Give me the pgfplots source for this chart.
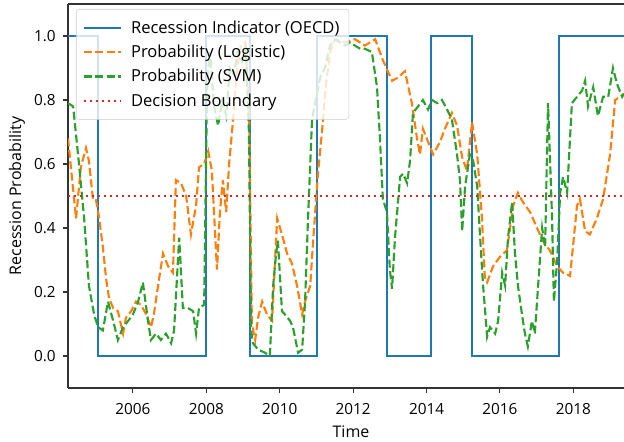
\documentclass[border=0pt]{standalone}
\usepackage{fontspec}
\setmainfont{Open Sans}
\usepackage{pgfplots}
\pgfplotsset{compat=1.18}
\definecolor{mblue}{HTML}{1F77B4}
\definecolor{morange}{HTML}{FF7F0E}
\definecolor{mgreen}{HTML}{2CA02C}
\definecolor{mred}{HTML}{D62728}
\begin{document}
\begin{tikzpicture}
\begin{axis}[
  name=ax,
  scale only axis,
  width=417pt, height=288pt,
  xmin=2004.23, xmax=2019.38,
  ymin=-0.1, ymax=1.1,
  axis x line*=box, axis y line*=left,
  axis line style={black!80, line width=0.8pt},
  tick align=outside,
  xtick pos=bottom, ytick pos=left,
  major tick length=3.75pt,
  tick style={black!80, line width=0.8pt},
  xtick={2006,2008,2010,2012,2014,2016,2018},
  ytick={0,0.2,0.4,0.6,0.8,1.0},
  /pgf/number format/assume math mode=true,
  x tick label style={/pgf/number format/1000 sep={}, font=\fontsize{11.5}{13}\selectfont, yshift=-4pt},
  y tick label style={/pgf/number format/.cd, fixed, fixed zerofill, precision=1, /tikz/.cd, font=\fontsize{11.5}{13}\selectfont, xshift=-2pt},
  xlabel={Time},
  ylabel={Recession Probability},
  xlabel style={at={(axis description cs:0.509,-0.1146)}, anchor=center, font=\fontsize{12}{14}\selectfont},
  ylabel style={at={(axis description cs:-0.0917,0.5)}, anchor=center, font=\fontsize{12}{14}\selectfont},
  legend cell align=left,
  legend image code/.code={\draw[#1] (0pt,0pt) -- (28pt,0pt); \path (32.5pt,0pt);},
  legend style={at={(axis description cs:0,1)}, anchor=north west, xshift=6pt, yshift=-3.75pt,
    draw=black!20, fill=white, fill opacity=0.8, text opacity=1, rounded corners=2pt,
    font=\fontsize{12.4}{14}\selectfont, row sep=3.3pt, inner xsep=5pt, inner ysep=6.5pt},
]
\addplot[const plot, mblue, line width=1.6pt] coordinates {
(2004.23,1) (2005.05,0) (2007.99,1) (2009.19,0) (2011.01,1) (2012.92,0) (2014.12,1) (2015.24,0) (2017.61,1) (2019.38,1)
};
\addlegendentry{Recession Indicator (OECD)}
\addplot[morange, line width=1.6pt, dash pattern=on 6pt off 2.6pt] coordinates {
(2004.23,0.68) (2004.45,0.43) (2004.58,0.59) (2004.72,0.65) (2004.80,0.61) (2004.91,0.49) (2004.99,0.49)
(2005.08,0.43) (2005.18,0.34) (2005.27,0.24) (2005.35,0.18) (2005.46,0.15) (2005.59,0.14) (2005.73,0.07)
(2005.81,0.12) (2005.95,0.14) (2006.08,0.17) (2006.22,0.16) (2006.36,0.13) (2006.49,0.09) (2006.57,0.13)
(2006.71,0.24) (2006.82,0.32) (2006.96,0.28) (2007.09,0.26) (2007.17,0.55) (2007.31,0.54) (2007.45,0.50)
(2007.58,0.38) (2007.72,0.47) (2007.80,0.59) (2007.94,0.60) (2008.05,0.64) (2008.15,0.58) (2008.23,0.40)
(2008.29,0.27) (2008.37,0.45) (2008.45,0.55) (2008.54,0.45) (2008.62,0.60) (2008.73,0.74) (2008.84,0.90)
(2008.94,0.97) (2009.05,0.98) (2009.16,0.80) (2009.24,0.10) (2009.33,0.05) (2009.41,0.12) (2009.52,0.17)
(2009.65,0.13) (2009.79,0.11) (2009.93,0.43) (2010.06,0.38) (2010.20,0.32) (2010.33,0.29) (2010.47,0.22)
(2010.61,0.13) (2010.69,0.17) (2010.83,0.22) (2010.91,0.36) (2011.04,0.57) (2011.15,0.70) (2011.26,0.85)
(2011.37,0.95) (2011.51,0.99) (2011.78,0.98) (2012.05,0.99) (2012.32,0.97) (2012.60,0.99) (2012.79,0.93)
(2013.06,0.86) (2013.22,0.87) (2013.41,0.89) (2013.60,0.79) (2013.74,0.68) (2013.82,0.63) (2013.90,0.71)
(2014.04,0.67) (2014.18,0.63) (2014.37,0.67) (2014.50,0.71) (2014.69,0.76) (2014.83,0.72) (2014.97,0.62)
(2015.10,0.58) (2015.24,0.73) (2015.38,0.63) (2015.51,0.43) (2015.59,0.24) (2015.65,0.23) (2015.81,0.28)
(2016.00,0.31) (2016.19,0.33) (2016.36,0.47) (2016.49,0.51) (2016.63,0.48) (2016.82,0.45) (2017.01,0.40)
(2017.17,0.36) (2017.36,0.33) (2017.56,0.28) (2017.72,0.26) (2017.91,0.25) (2018.10,0.47) (2018.18,0.49)
(2018.32,0.39) (2018.45,0.38) (2018.64,0.43) (2018.81,0.49) (2019.00,0.63) (2019.14,0.80) (2019.27,0.81)
(2019.38,0.82)
};
\addlegendentry{Probability (Logistic)}
\addplot[mgreen, line width=1.6pt, dash pattern=on 6pt off 2.6pt] coordinates {
(2004.23,0.79) (2004.37,0.78) (2004.53,0.60) (2004.67,0.43) (2004.80,0.22) (2004.94,0.13) (2005.05,0.09)
(2005.18,0.08) (2005.32,0.17) (2005.46,0.11) (2005.59,0.05) (2005.73,0.09) (2005.87,0.11) (2006.00,0.13)
(2006.14,0.17) (2006.27,0.23) (2006.41,0.11) (2006.49,0.05) (2006.63,0.07) (2006.76,0.05) (2006.90,0.07)
(2007.04,0.04) (2007.12,0.08) (2007.26,0.37) (2007.36,0.15) (2007.50,0.15) (2007.64,0.14) (2007.72,0.07)
(2007.80,0.15) (2007.94,0.16) (2008.02,0.85) (2008.10,0.95) (2008.21,0.78) (2008.32,0.72) (2008.43,0.80)
(2008.54,0.75) (2008.64,0.90) (2008.75,0.88) (2008.86,0.95) (2008.97,0.92) (2009.08,0.96) (2009.16,0.70)
(2009.22,0.08) (2009.27,0.04) (2009.41,0.02) (2009.60,0.01) (2009.73,0.00) (2009.82,0.22) (2009.90,0.32)
(2009.95,0.36) (2010.06,0.14) (2010.14,0.13) (2010.28,0.11) (2010.36,0.09) (2010.50,0.01) (2010.61,0.02)
(2010.69,0.17) (2010.77,0.43) (2010.88,0.74) (2010.96,0.79) (2011.10,0.87) (2011.23,0.90) (2011.37,0.97)
(2011.51,0.99) (2011.64,0.98) (2011.78,0.97) (2011.91,0.98) (2012.05,0.97) (2012.19,0.96) (2012.32,0.96)
(2012.51,0.95) (2012.65,0.84) (2012.73,0.68) (2012.81,0.49) (2012.92,0.45) (2013.00,0.27) (2013.06,0.21)
(2013.14,0.37) (2013.28,0.56) (2013.36,0.57) (2013.47,0.54) (2013.55,0.61) (2013.63,0.76) (2013.77,0.78)
(2013.90,0.80) (2014.04,0.77) (2014.15,0.80) (2014.29,0.79) (2014.42,0.80) (2014.56,0.77) (2014.69,0.74)
(2014.83,0.63) (2014.91,0.55) (2014.97,0.39) (2015.05,0.53) (2015.18,0.63) (2015.27,0.61) (2015.38,0.53)
(2015.46,0.37) (2015.54,0.22) (2015.59,0.15) (2015.65,0.06) (2015.73,0.09) (2015.87,0.07) (2015.95,0.11)
(2016.06,0.26) (2016.14,0.22) (2016.22,0.37) (2016.33,0.48) (2016.41,0.32) (2016.49,0.22) (2016.60,0.13)
(2016.68,0.07) (2016.76,0.03) (2016.87,0.11) (2016.95,0.07) (2017.04,0.22) (2017.15,0.40) (2017.23,0.34)
(2017.31,0.79) (2017.36,0.63) (2017.42,0.43) (2017.47,0.17) (2017.56,0.30) (2017.64,0.51) (2017.72,0.56)
(2017.83,0.51) (2017.96,0.79) (2018.10,0.81) (2018.24,0.83) (2018.32,0.86) (2018.40,0.78) (2018.54,0.84)
(2018.67,0.75) (2018.81,0.81) (2018.95,0.81) (2019.08,0.90) (2019.19,0.85) (2019.33,0.81) (2019.38,0.82)
};
\addlegendentry{Probability (SVM)}
\addplot[mred, line width=1.6pt, dash pattern=on 1.5pt off 3pt] coordinates {
(2004.23,0.5) (2019.38,0.5)
};
\addlegendentry{Decision Boundary}
\end{axis}
\pgfresetboundingbox
\path[use as bounding box] ([xshift=-51pt,yshift=-40.5pt]ax.south west) rectangle ([yshift=3pt]ax.north east);
\end{tikzpicture}
\end{document}
